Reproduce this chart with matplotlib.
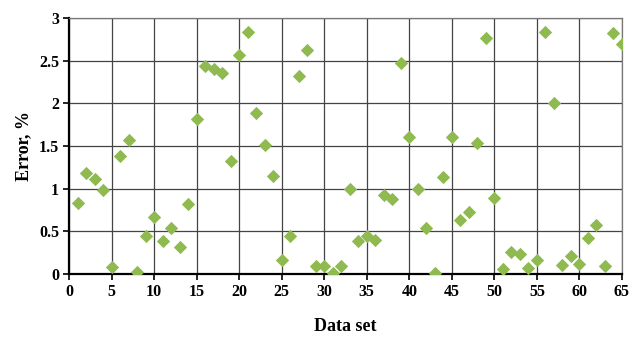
import numpy as np
import matplotlib
matplotlib.use("Agg")
import matplotlib.pyplot as plt

# data
data_set = list(range(1, 66))
error = [0.83, 1.18, 1.11, 0.99, 0.08, 1.38, 1.57, 0.02, 0.44, 0.67,
         0.39, 0.54, 0.32, 0.82, 1.82, 2.44, 2.40, 2.36, 1.32, 2.57,
         2.84, 1.89, 1.51, 1.15, 0.16, 0.44, 2.32, 2.63, 0.09, 0.09,
         0.01, 0.09, 1.00, 0.39, 0.44, 0.40, 0.93, 0.88, 2.47, 1.60,
         1.00, 0.54, 0.01, 1.14, 1.61, 0.63, 0.73, 1.54, 2.76, 0.89,
         0.06, 0.26, 0.23, 0.07, 0.16, 2.84, 2.00, 0.11, 0.21, 0.12,
         0.42, 0.57, 0.09, 2.83, 2.70]

x_ticks = list(range(0, 66, 5))
y_ticks = [0, 0.5, 1, 1.5, 2, 2.5, 3]
y_tick_labels = ["0", "0.5", "1", "1.5", "2", "2.5", "3"]

plt.rcParams["font.family"] = ["Liberation Serif", "DejaVu Serif"]
plt.rcParams["font.weight"] = "bold"

fig = plt.figure(figsize=(6.32, 3.38), dpi=100)
ax = fig.add_axes([69 / 632, 1 - 274 / 338, (622 - 69) / 632, (274 - 18) / 338])

ax.scatter(data_set, error, marker="D", s=46, color="#8FBA50", zorder=3, linewidths=0)

ax.set_xlim(0, 65)
ax.set_ylim(0, 3)
ax.set_xticks(x_ticks)
ax.set_yticks(y_ticks)
ax.set_yticklabels(y_tick_labels)
ax.tick_params(axis="both", labelsize=11.5, direction="out", length=4, width=1.2, pad=3)
for lab in ax.get_xticklabels() + ax.get_yticklabels():
    lab.set_fontweight("bold")

ax.grid(True, color="#444444", linewidth=0.9, zorder=0)
ax.set_axisbelow(True)
for side in ["top", "right"]:
    ax.spines[side].set_color("#777777")
    ax.spines[side].set_linewidth(0.9)
for side in ["left", "bottom"]:
    ax.spines[side].set_color("black")
    ax.spines[side].set_linewidth(1.6)

ax.set_xlabel("Data set", fontsize=13, fontweight="bold", labelpad=13)
ax.set_ylabel("Error, %", fontsize=13, fontweight="bold", labelpad=5)

fig.savefig("out.png", dpi=100)
